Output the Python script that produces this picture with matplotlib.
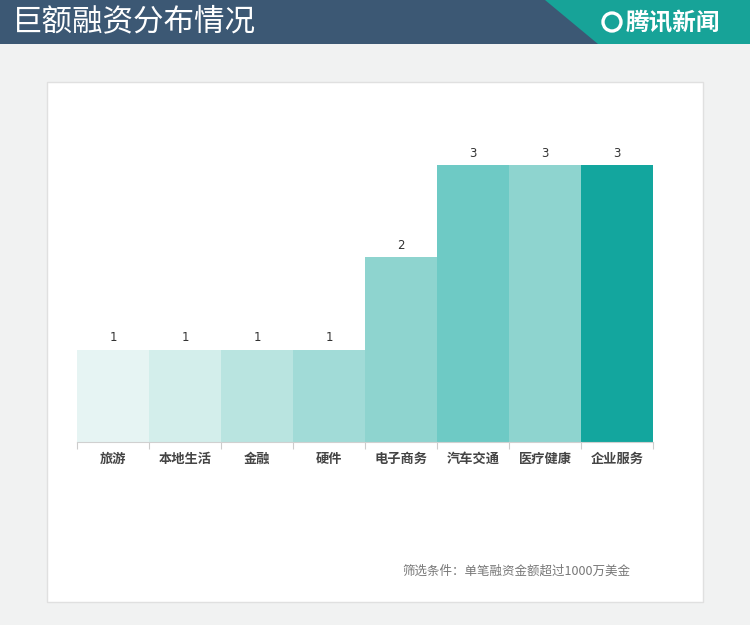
import numpy as np
import matplotlib.pyplot as plt
from matplotlib.patches import Rectangle, Polygon, Ellipse

plt.rcParams['font.family'] = ['Noto Sans CJK SC', 'DejaVu Sans']

# data
categories = ['旅游', '本地生活', '金融', '硬件', '电子商务', '汽车交通', '医疗健康', '企业服务']
counts = [1, 1, 1, 1, 2, 3, 3, 3]
colors = ['#e6f4f3', '#d3eeeb', '#b9e4e0', '#a1dbd7', '#8ed4cf', '#6ecac5', '#8ed4cf', '#13a69e']
title = '巨额融资分布情况'
note = '筛选条件：单笔融资金额超过1000万美金'

W, H = 750, 625
fig = plt.figure(figsize=(7.5, 6.25), dpi=100)
fig.patch.set_facecolor('#f1f2f2')

def fx(px):
    return px / W

def fy(py):
    return 1 - py / H

# header bar
fig.patches.append(Rectangle((0, fy(44)), 1, 44 / H, transform=fig.transFigure,
                             facecolor='#3c5874', edgecolor='none', zorder=0))
fig.patches.append(Polygon([(fx(545), fy(0)), (1, fy(0)), (1, fy(44)), (fx(598), fy(44))],
                           closed=True, transform=fig.transFigure,
                           facecolor='#17a398', edgecolor='none', zorder=0))
fig.text(fx(12), fy(22), title, color='white', fontsize=22, va='center', ha='left')
fig.patches.append(Ellipse((fx(612), fy(22)), 18 / W, 18 / H, transform=fig.transFigure,
                           facecolor='none', edgecolor='white', lw=2.4, zorder=1))
fig.text(fx(626), fy(23), '腾讯新闻', color='white', fontsize=17, fontweight='bold',
         style='italic', va='center', ha='left')

# white panel
fig.patches.append(Rectangle((fx(47), fy(602)), (703 - 47) / W, (602 - 82) / H,
                             transform=fig.transFigure, facecolor='white',
                             edgecolor='#e0e0e0', lw=1, zorder=0))

# chart axes
ax = fig.add_axes([fx(77), fy(442), (653 - 77) / W, (442 - 100) / H])
ax.set_zorder(5)
ax.set_facecolor('none')
x = np.arange(len(categories))
ax.bar(x, counts, width=1.0, color=colors, edgecolor='none')
for xi, v in zip(x, counts):
    ax.text(xi, v + 0.06, str(v), ha='center', va='bottom', fontsize=8.5, color='#333333',
            family='DejaVu Sans')

ax.set_xlim(-0.5, len(categories) - 0.5)
ax.set_ylim(0, 342 / 92.3)
ax.set_yticks([])
ax.set_xticks(x)
ax.set_xticklabels(categories, fontsize=9.5, color='#444444', fontweight='bold')
ax.set_xticks(np.arange(-0.5, len(categories)), minor=True)
ax.tick_params(axis='x', which='major', length=0, pad=7)
ax.tick_params(axis='x', which='minor', length=5, color='#cccccc', width=0.8)
for s in ['top', 'right', 'left']:
    ax.spines[s].set_visible(False)
ax.spines['bottom'].set_color('#d0d0d0')
ax.spines['bottom'].set_linewidth(0.8)

fig.text(fx(630), fy(571), note, fontsize=9, color='#777777', ha='right', va='center')

plt.savefig('out.png', dpi=100, facecolor=fig.get_facecolor())
